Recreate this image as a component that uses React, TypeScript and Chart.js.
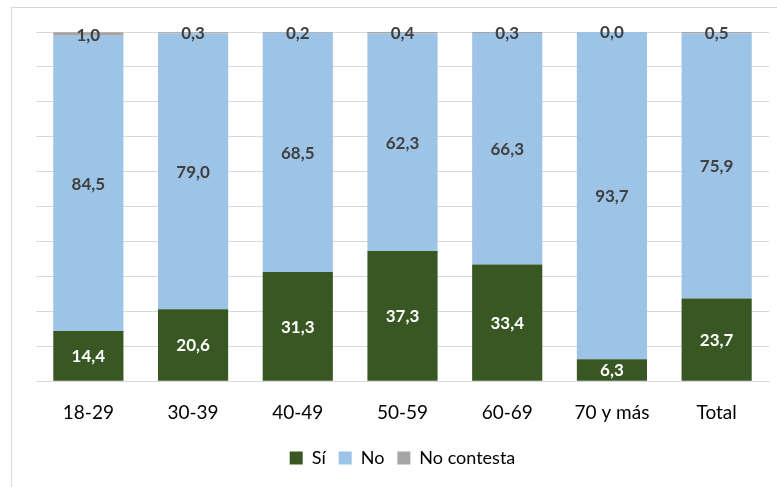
import React, { useEffect, useRef } from "react";
import { Chart, registerables } from "chart.js";

Chart.register(...registerables);

const categories = ["18-29", "30-39", "40-49", "50-59", "60-69", "70 y más", "Total"];
const siValues = [14.4, 20.6, 31.3, 37.3, 33.4, 6.3, 23.7];
const noValues = [84.5, 79.0, 68.5, 62.3, 66.3, 93.7, 75.9];
const ncValues = [1.0, 0.3, 0.2, 0.4, 0.3, 0.0, 0.5];
const seriesNames = ["Sí", "No", "No contesta"];

const FONT = "Lato, 'Open Sans', sans-serif";

const labelPlugin = {
  id: "segLabels",
  afterDatasetsDraw(chart: any) {
    const ctx = chart.ctx;
    ctx.save();
    ctx.font = `bold 17px ${FONT}`;
    ctx.textAlign = "center";
    ctx.textBaseline = "middle";
    chart.data.datasets.forEach((ds: any, di: number) => {
      const meta = chart.getDatasetMeta(di);
      meta.data.forEach((el: any, i: number) => {
        const v = ds.data[i] as number;
        const y = (el.y + el.base) / 2;
        ctx.fillStyle = di === 0 ? "#ffffff" : "#404040";
        ctx.fillText(v.toFixed(1).replace(".", ","), el.x, y + 1);
      });
    });
    ctx.restore();
  },
};

export default function App() {
  const ref = useRef<HTMLCanvasElement | null>(null);
  useEffect(() => {
    if (!ref.current) return;
    const chart = new Chart(ref.current, {
      type: "bar",
      data: {
        labels: categories,
        datasets: [
          { label: seriesNames[0], data: siValues, backgroundColor: "#385723", borderWidth: 0 },
          { label: seriesNames[1], data: noValues, backgroundColor: "#9DC3E6", borderWidth: 0 },
          { label: seriesNames[2], data: ncValues, backgroundColor: "#A5A5A5", borderWidth: 0 },
        ],
      },
      options: {
        responsive: false,
        animation: false,
        layout: { padding: { left: 36, right: 8, top: 32, bottom: 10 } },
        datasets: { bar: { barPercentage: 0.67, categoryPercentage: 1 } },
        scales: {
          x: {
            stacked: true,
            grid: { display: false },
            border: { color: "#d9d9d9" },
            ticks: { color: "#000000", font: { family: FONT, size: 19 }, padding: 12 },
          },
          y: {
            stacked: true,
            min: 0,
            max: 100,
            ticks: { display: false, stepSize: 10 },
            grid: { color: "#d9d9d9", drawTicks: false },
            border: { display: false },
          },
        },
        plugins: {
          legend: {
            position: "bottom",
            labels: {
              color: "#000000",
              font: { family: FONT, size: 18 },
              boxWidth: 13,
              boxHeight: 13,
              padding: 13,
            },
          },
          tooltip: { enabled: false },
        },
      },
      plugins: [labelPlugin],
    });
    return () => chart.destroy();
  }, []);
  return (
    <div style={{ position: "fixed", left: 0, top: 0, width: 777, height: 487, overflow: "hidden", background: "#fff" }}>
      <div style={{ position: "absolute", left: 11, top: 7, width: 800, height: 520, border: "1px solid #d9d9d9" }} />
      <canvas ref={ref} width={777} height={487} style={{ position: "absolute", left: 0, top: 0, width: 777, height: 487 }} />
    </div>
  );
}
